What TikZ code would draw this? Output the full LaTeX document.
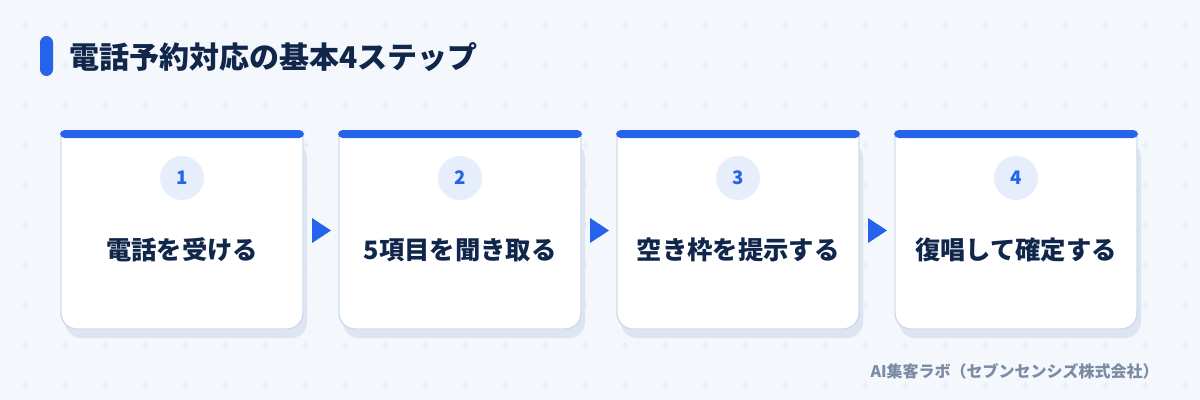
\documentclass[tikz,border=0pt]{standalone}
\usepackage{fontspec}
\setmainfont{Noto Sans CJK JP}
\definecolor{bgc}{HTML}{F4F7FC}
\definecolor{plusc}{HTML}{E0E6EF}
\definecolor{bluec}{HTML}{2563EB}
\definecolor{navyc}{HTML}{10264A}
\definecolor{footc}{HTML}{7C8BA5}
\definecolor{circc}{HTML}{E6EEFB}
\definecolor{shadc}{HTML}{DCE5F1}
\definecolor{bordc}{HTML}{D0DCEB}
\tikzset{
  titletext/.style={anchor=west, font=\bfseries\fontsize{22.5}{22.5}\selectfont, text=navyc, inner sep=0},
  numcirc/.style={circle, fill=circc, minimum size=33pt, inner sep=0, text=bluec, font=\bfseries\fontsize{14}{14}\selectfont},
  steptext/.style={font=\bfseries\fontsize{19}{19}\selectfont, text=navyc, inner sep=0},
  foottext/.style={anchor=east, font=\bfseries\fontsize{12}{12}\selectfont, text=footc, inner sep=0},
  flowtri/.style={fill=bluec},
}
\begin{document}
\begin{tikzpicture}[x=0.75pt,y=-0.75pt]
\fill[bgc] (0,0) rectangle (1200,400);
\useasboundingbox (0,0) rectangle (1200,400);
\foreach \i in {0,...,29} \foreach \j in {0,...,9} {
  \draw[plusc, line width=0.75pt] ({25+40*\i-3},{25+40*\j}) -- ++(6,0) ({25+40*\i},{25+40*\j-3}) -- ++(0,6);
}
% title
\fill[bluec, rounded corners=5] (40,36) rectangle (53,76);
\node[titletext] (title) at (69,57) {電話予約対応の基本4ステップ};
% cards
\foreach \k/\txt in {0/電話を受ける,1/5項目を聞き取る,2/空き枠を提示する,3/復唱して確定する} {
  \pgfmathsetmacro{\xo}{61+278*\k}
  \fill[shadc, rounded corners=12] (\xo+4,142) rectangle (\xo+246,338);
  \draw[fill=white, draw=bordc, line width=1.1pt] (\xo,134) [rounded corners=12] -- (\xo,329) -- (\xo+242,329) [sharp corners] -- (\xo+242,134) -- cycle;
  \fill[bluec, rounded corners=3.5] (\xo-1,130) rectangle (\xo+243,138);
  \pgfmathtruncatemacro{\num}{\k+1}
  \node[numcirc] (num\k) at (\xo+121,178) {\num};
  \node[steptext] (step\k) at (\xo+121,250) {\txt};
}
\foreach \k in {0,1,2} {
  \pgfmathsetmacro{\xo}{61+278*\k}
  \fill[flowtri] (\xo+251,218) -- (\xo+270,230.5) -- (\xo+251,243) -- cycle;
}
\node[foottext] (foot) at (1159,371) {AI集客ラボ（セブンセンシズ株式会社）};
\end{tikzpicture}
\end{document}
